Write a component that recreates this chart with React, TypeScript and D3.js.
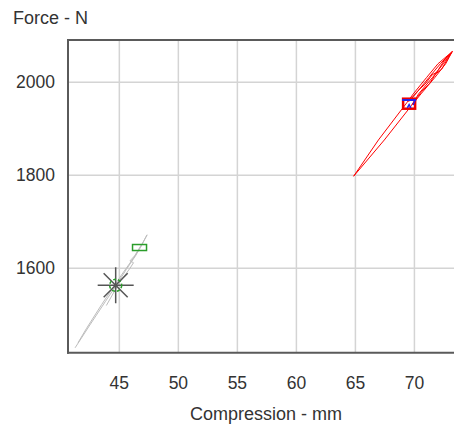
import React from "react";
import * as d3 from "d3";

const xTicks = [45, 50, 55, 60, 65, 70];
const yTicks = [1600, 1800, 2000];
const xDomain = [40.65, 74.2];
const yDomain = [1418.5, 2091];

type P = [number, number];

// gray trace (compression mm, force N)
const grayLoad: P[] = [[41.25, 1429], [42.5, 1478], [43.8, 1528], [44.7, 1562], [45.6, 1598], [46.4, 1628], [47.35, 1672]];
const grayUnload: P[] = [[47.35, 1672], [46.8, 1645], [46.2, 1622], [45.3, 1590], [44.5, 1560], [43.5, 1522], [42.2, 1470], [41.5, 1440]];
const grayExtra: P[] = [[43.9, 1520], [44.9, 1565], [45.9, 1600], [46.2, 1612], [45.9, 1616], [46.3, 1627], [46.9, 1652]];

// red trace
const redLeft: P[] = [[64.85, 1798], [66.95, 1876], [69.35, 1956]];
const redRight: P[] = [[64.85, 1798], [67.45, 1876], [69.75, 1950]];
const redU1: P[] = [[69.35, 1956], [69.9, 1975], [71.02, 2010], [72.0, 2040], [73.2, 2066]];
const redU2: P[] = [[69.6, 1962], [70.1, 1975], [71.22, 2010], [72.2, 2040], [73.2, 2066]];
const redU3: P[] = [[69.75, 1950], [70.35, 1975], [71.52, 2010], [72.45, 2040], [73.2, 2066]];
const redU4: P[] = [[69.95, 1956], [70.55, 1975], [71.72, 2010], [72.65, 2040], [73.2, 2066]];
const redU5: P[] = [[69.5, 1958], [70.3, 1982], [70.9, 1996], [71.5, 2016], [71.9, 2022], [72.5, 2046], [73.2, 2066]];
const redU6: P[] = [[69.8, 1952], [70.6, 1980], [71.3, 1998], [71.8, 2018], [72.3, 2028], [72.9, 2054], [73.2, 2066]];

const redMarker: P = [69.55, 1954];
const blueBar: P = [69.55, 1962];
const blueTri: P[] = [[69.4, 1945], [69.55, 1952], [69.7, 1945]];
const starMarker: P = [44.69, 1563.4];
const greenRect: P = [46.71, 1644.7];

export default function App() {
  const W = 454, H = 426;
  const left = 68, top = 40, right = 464, bottom = 352.7;
  const x = d3.scaleLinear().domain(xDomain).range([left, right]);
  const y = d3.scaleLinear().domain(yDomain).range([bottom, top]);
  const line = d3.line<P>().x(d => x(d[0])).y(d => y(d[1]));
  const font = "'Liberation Sans', Arial, sans-serif";
  const txt = "#333";
  const [sx, sy] = [x(starMarker[0]), y(starMarker[1])];
  const grays = [grayLoad, grayUnload, grayExtra];
  const reds = [redLeft, redRight, redU1, redU2, redU3, redU4, redU5, redU6];
  return (
    <svg width={W} height={H} style={{ position: "absolute", left: 0, top: 0, background: "#fff" }}>
      <defs>
        <clipPath id="plot">
          <rect x={left} y={top} width={right - left} height={bottom - top} />
        </clipPath>
      </defs>
      <rect x={0} y={0} width={W} height={H} fill="#fff" />
      {xTicks.map(t => (
        <line key={"gx" + t} x1={x(t)} x2={x(t)} y1={top} y2={bottom} stroke="#d4d4d4" strokeWidth={1.5} />
      ))}
      {yTicks.map(t => (
        <line key={"gy" + t} x1={left} x2={right} y1={y(t)} y2={y(t)} stroke="#d4d4d4" strokeWidth={1.5} />
      ))}
      <g clipPath="url(#plot)" fill="none">
        {grays.map((g, i) => (
          <path key={"g" + i} d={line(g) || ""} stroke="#bdbdbd" strokeWidth={1} />
        ))}
        {reds.map((r, i) => (
          <path key={"r" + i} d={line(r) || ""} stroke="#ff0000" strokeWidth={1} />
        ))}
        <rect x={x(redMarker[0]) - 6} y={y(redMarker[1]) - 5} width={12} height={10} stroke="#ee0000" strokeWidth={2.5} />
        <line x1={x(blueBar[0]) - 7} x2={x(blueBar[0]) + 7} y1={y(blueBar[1])} y2={y(blueBar[1])} stroke="#2222ee" strokeWidth={2} />
        <path d={(line(blueTri) || "")} stroke="#2222ee" strokeWidth={1.5} />
        <line x1={x(blueBar[0]) + 6} x2={x(blueBar[0]) + 4} y1={y(blueBar[1])} y2={y(blueBar[1]) + 5} stroke="#2222ee" strokeWidth={1.5} />
        <line x1={sx - 18} x2={sx + 18} y1={sy} y2={sy} stroke="#555" strokeWidth={1.5} />
        <line x1={sx} x2={sx} y1={sy - 18} y2={sy + 18} stroke="#555" strokeWidth={1.5} />
        <line x1={sx - 12} x2={sx + 12} y1={sy - 12} y2={sy + 12} stroke="#555" strokeWidth={1.5} />
        <line x1={sx - 12} x2={sx + 12} y1={sy + 12} y2={sy - 12} stroke="#555" strokeWidth={1.5} />
        <circle cx={sx} cy={sy} r={6} stroke="#2a9d2a" strokeWidth={1.5} strokeDasharray="3,2" />
        <rect x={x(greenRect[0]) - 7} y={y(greenRect[1]) - 3} width={14} height={6} stroke="#2a9d2a" strokeWidth={1.5} />
      </g>
      <line x1={left} x2={left} y1={top - 1} y2={bottom + 1} stroke="#5a5a5a" strokeWidth={2} />
      <line x1={left - 1} x2={right} y1={top} y2={top} stroke="#5a5a5a" strokeWidth={2} />
      <line x1={left - 1} x2={right} y1={bottom} y2={bottom} stroke="#5a5a5a" strokeWidth={2} />
      {yTicks.map(t => (
        <text key={"ty" + t} x={55} y={y(t) + 5.5} textAnchor="end" fontFamily={font} fontSize={17.5} fill={txt}>{t}</text>
      ))}
      {xTicks.map(t => (
        <text key={"tx" + t} x={x(t)} y={388.5} textAnchor="middle" fontFamily={font} fontSize={17.5} fill={txt}>{t}</text>
      ))}
      <text x={13} y={23.5} fontFamily={font} fontSize={18} fill={txt}>Force - N</text>
      <text x={266} y={420} textAnchor="middle" fontFamily={font} fontSize={18} fill={txt}>Compression - mm</text>
    </svg>
  );
}
